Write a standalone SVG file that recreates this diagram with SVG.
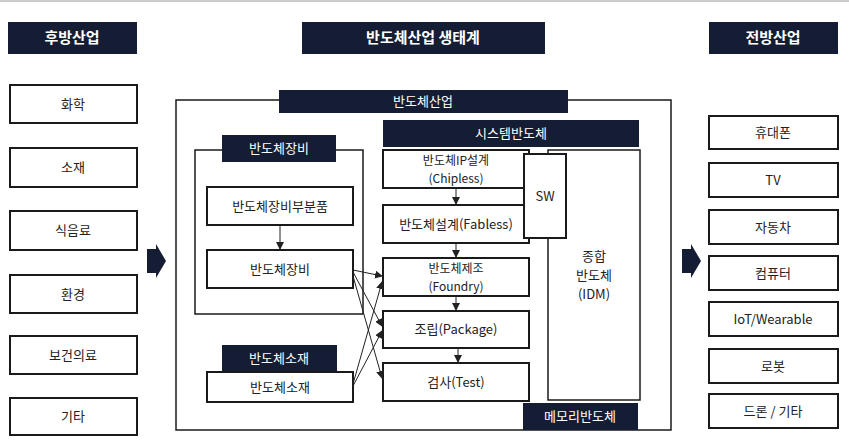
<svg xmlns="http://www.w3.org/2000/svg" width="849" height="441" viewBox="0 0 849 441">
<style>
.h{fill:#141d33}
.ht{fill:#fff;font-family:"Noto Sans CJK KR","Noto Sans",sans-serif;font-size:15px;font-weight:bold;text-anchor:middle}
.ht2{fill:#fff;font-family:"Noto Sans CJK KR","Noto Sans",sans-serif;font-size:13px;text-anchor:middle}
.b{fill:#fff;stroke:#1a1a1a;stroke-width:2}
.f{fill:none;stroke:#1a1a1a;stroke-width:1.5}
.t{fill:#222;font-family:"Noto Sans CJK KR","Noto Sans",sans-serif;font-size:13px;text-anchor:middle}
.s{fill:#222;font-family:"Noto Sans CJK KR","Noto Sans",sans-serif;font-size:12px;text-anchor:middle}
.c{stroke:#222;stroke-width:1;fill:none;marker-end:url(#a)}
</style>
<defs><marker id="a" markerWidth="8" markerHeight="8" refX="7" refY="4" orient="auto" markerUnits="userSpaceOnUse"><path d="M0,0 L8,4 L0,8z" fill="#222"/></marker></defs>
<rect width="849" height="441" fill="#fff"/>
<line x1="0" y1="1" x2="849" y2="1" stroke="#999"/>
<g id="left">
<rect class="h" x="8" y="22" width="129" height="32"/><text class="ht" x="72" y="43">후방산업</text>
<rect class="b" x="10" y="85" width="127" height="38"/><text class="t" x="73" y="109">화학</text>
<rect class="b" x="10" y="148" width="127" height="39"/><text class="t" x="73" y="172">소재</text>
<rect class="b" x="10" y="211" width="127" height="39"/><text class="t" x="73" y="235">식음료</text>
<rect class="b" x="10" y="275" width="127" height="38"/><text class="t" x="73" y="299">환경</text>
<rect class="b" x="10" y="336" width="127" height="38"/><text class="t" x="73" y="360">보건의료</text>
<rect class="b" x="10" y="398" width="127" height="37"/><text class="t" x="73" y="421">기타</text>
</g>
<g id="right">
<rect class="h" x="709" y="22" width="129" height="32"/><text class="ht" x="773" y="43">전방산업</text>
<rect class="b" x="709" y="116" width="129" height="33"/><text class="t" x="773" y="137">휴대폰</text>
<rect class="b" x="709" y="163" width="129" height="34"/><text class="t" x="773" y="185">TV</text>
<rect class="b" x="709" y="210" width="129" height="34"/><text class="t" x="773" y="232">자동차</text>
<rect class="b" x="709" y="256" width="129" height="34"/><text class="t" x="773" y="278">컴퓨터</text>
<rect class="b" x="709" y="302" width="129" height="34"/><text class="t" x="773" y="324">IoT/Wearable</text>
<rect class="b" x="709" y="349" width="129" height="34"/><text class="t" x="773" y="371">로봇</text>
<rect class="b" x="709" y="394" width="129" height="34"/><text class="t" x="773" y="416">드론 / 기타</text>
</g>
<g id="center">
<rect class="h" x="302" y="22" width="243" height="32"/><text class="ht" x="423" y="43">반도체산업 생태계</text>
<rect class="f" x="176" y="100" width="495" height="330"/>
<rect class="h" x="279" y="90" width="289" height="23"/><text class="ht2" x="423" y="106">반도체산업</text>
<rect class="f" x="195" y="150" width="168" height="164"/>
<rect class="h" x="222" y="135" width="114" height="27"/><text class="ht2" x="279" y="153">반도체장비</text>
<rect class="b" x="207" y="187" width="146" height="38"/><text class="t" x="280" y="211">반도체장비부분품</text>
<rect class="b" x="207" y="250" width="146" height="38"/><text class="t" x="280" y="274">반도체장비</text>
<rect class="h" x="222" y="345" width="115" height="27"/><text class="ht2" x="279" y="363">반도체소재</text>
<rect class="b" x="207" y="372" width="146" height="30"/><text class="t" x="280" y="392">반도체소재</text>
<rect class="h" x="383" y="120" width="256" height="27"/><text class="ht2" x="511" y="138">시스템반도체</text>
<rect class="f" x="548" y="150" width="92" height="250"/>
<text class="t" x="594" y="261">종합</text><text class="t" x="594" y="280">반도체</text><text class="t" x="594" y="299">(IDM)</text>
<rect class="b" x="383" y="150" width="146" height="38"/><text class="s" x="456" y="165">반도체IP설계</text><text class="s" x="456" y="183">(Chipless)</text>
<rect class="b" x="383" y="205" width="146" height="38"/><text class="t" x="456" y="229">반도체설계(Fabless)</text>
<rect class="b" x="383" y="258" width="146" height="38"/><text class="s" x="456" y="273">반도체제조</text><text class="s" x="456" y="291">(Foundry)</text>
<rect class="b" x="383" y="311" width="146" height="37"/><text class="t" x="456" y="334">조립(Package)</text>
<rect class="b" x="383" y="363" width="146" height="38"/><text class="t" x="456" y="387">검사(Test)</text>
<rect class="b" x="524" y="154" width="42" height="84"/><text class="t" x="545" y="201">SW</text>
<rect class="h" x="523" y="403" width="115" height="27"/><text class="ht2" x="580" y="421">메모리반도체</text>
</g>
<g id="blockarrows" fill="#141d33">
<path d="M147,249 L156,249 L156,244 L166,261 L156,278 L156,273 L147,273z"/>
<path d="M682,249 L691,249 L691,244 L701,261 L691,278 L691,273 L682,273z"/>
</g>
<g id="connectors">
<line class="c" x1="280" y1="225" x2="280" y2="249"/>
<line class="c" x1="456" y1="188" x2="456" y2="204"/>
<line class="c" x1="456" y1="243" x2="456" y2="257"/>
<line class="c" x1="456" y1="296" x2="456" y2="310"/>
<line class="c" x1="458" y1="348" x2="458" y2="362"/>
<line class="c" x1="353" y1="270" x2="382" y2="276"/>
<line class="c" x1="353" y1="272" x2="382" y2="326"/>
<line class="c" x1="353" y1="276" x2="382" y2="378"/>
<line class="c" x1="353" y1="384" x2="382" y2="282"/>
<line class="c" x1="353" y1="386" x2="382" y2="331"/>
</g>
</svg>
